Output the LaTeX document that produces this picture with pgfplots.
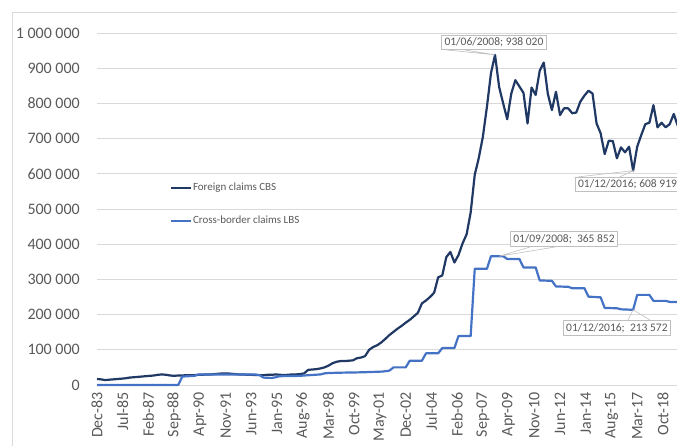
\documentclass[border=0pt]{standalone}
\usepackage{fontspec}
\setmainfont{Carlito}
\usepackage{pgfplots}
\pgfplotsset{compat=1.18}
\definecolor{cbs}{HTML}{203864}
\definecolor{lbs}{HTML}{4472C4}
\definecolor{txt}{HTML}{595959}
\definecolor{grd}{HTML}{D9D9D9}
\definecolor{bx}{HTML}{BFBFBF}
\begin{document}
\begin{tikzpicture}[x=1pt,y=1pt]
\useasboundingbox (0,0) rectangle (677,446);
\draw[grd, line width=0.8pt] (12,-10) -- (12,434) -- (700,434);
\begin{axis}[
  at={(97pt,61pt)}, anchor=south west,
  scale only axis, width=580pt, height=352pt,
  xmin=0, xmax=428.4, ymin=0, ymax=1000,
  axis line style={draw=none}, tick style={draw=none},
  ymajorgrids, grid style={grd, line width=0.9pt},
  ytick={0,100,...,1000},
  yticklabels={0,100 000,200 000,300 000,400 000,500 000,600 000,700 000,800 000,900 000,1 000 000},
  yticklabel style={font=\fontsize{16}{19}\selectfont, text=txt, anchor=east, inner sep=0pt, xshift=-17pt},
  xtick={0,19,...,418},
  xticklabels={Dec-83,Jul-85,Feb-87,Sep-88,Apr-90,Nov-91,Jun-93,Jan-95,Aug-96,Mar-98,Oct-99,May-01,Dec-02,Jul-04,Feb-06,Sep-07,Apr-09,Nov-10,Jun-12,Jan-14,Aug-15,Mar-17,Oct-18},
  xticklabel style={font=\fontsize{16}{19}\selectfont, text=txt, rotate=90, anchor=east, inner sep=0pt, xshift=-7pt},
  clip=false,
  legend style={at={(0.1259,0.5767)}, anchor=north west, draw=none, fill=none, inner sep=0pt, row sep=22pt, font=\fontsize{11}{13}\selectfont, text=txt, nodes={inner sep=1pt}},
  legend cell align=left,
  legend image code/.code={\draw[#1, line width=1.8pt] (0pt,0pt) -- (20pt,0pt);},
]
\addplot[cbs, line width=2.2pt, line join=round] table {
0 17
3 16
6 14
9 15
12 16
15 17
18 18
21 19
24 21
27 22
30 23
33 24
36 25
39 26
42 27
45 29
48 30
51 29
54 27
57 26
60 27
63 27
66 28
69 28
72 28
75 29
78 29
81 30
84 30
87 31
90 32
93 33
96 33
99 32
102 31
105 30
108 30
111 29
114 29
117 28
120 28
123 28
126 29
129 29
132 30
135 29
138 28
141 29
144 30
147 30
150 31
153 33
156 43
159 44
162 45
165 47
168 50
171 55
174 62
177 66
180 68
183 68
186 69
189 70
192 76
195 78
198 82
201 100
204 108
207 113
210 121
213 131
216 142
219 151
222 160
225 168
228 177
231 185
234 195
237 205
240 232
243 240
246 250
249 262
252 306
255 311
258 363
261 378
264 348
267 369
270 402
273 428
276 490
279 597
282 645
285 705
288 790
291 886
294 938.02
297 847
300 800
303 755
306 828
309 866
312 848
315 830
318 743
321 845
324 824
327 893
330 916
333 827
336 781
339 833
342 767
345 786
348 786
351 772
354 774
357 805
360 822
363 836
366 828
369 743
372 715
375 656
378 694
381 693
384 644
387 675
390 661
393 677
396 608.919
399 677
402 710
405 741
408 745
411 795
414 732
417 745
420 732
423 741
426 770
429 736
};
\addlegendentry{Foreign claims CBS}
\addplot[lbs, line width=2.2pt, line join=round] table {
0 0
60 0
63 24
72 26
75 30
117 30
120 28
123 21
129 20
132 22
135 25
150 26
153 27
165 30
168 33
171 34
180 35
195 36
210 38
213 39
216 41
219 50
228 50
231 69
240 69
243 90
252 90
255 105
264 105
267 139
276 139
279 330
288 330
291 365.852
300 365.852
303 358
312 358
315 334
324 334
327 297
336 296
339 280
348 279
351 275
360 275
363 251
372 249
375 219
384 218
387 215
396 213.572
399 256
408 256
411 239
420 239
423 236
429 236
};
\addlegendentry{Cross-border claims LBS}
% data labels
\draw[bx, line width=0.6pt] (axis cs:258.5,951.7) -- (axis cs:294,938.02) -- (axis cs:271.8,951.7);
\node[draw=bx, fill=white, text=txt, line width=0.6pt, inner xsep=3pt, inner ysep=2.5pt, font=\fontsize{11.5}{14}\selectfont] at (axis cs:293.2,974) {01/06/2008; 938 020};
\draw[bx, line width=0.6pt] (axis cs:355,591) -- (axis cs:396,608.919) -- (axis cs:386,591);
\node[draw=bx, fill=white, text=txt, line width=0.6pt, inner xsep=2.5pt, inner ysep=2.5pt, font=\fontsize{11.5}{14}\selectfont, anchor=west] at (axis cs:353.3,569.6) {01/12/2016; 608 919};
\draw[bx, line width=0.6pt] (axis cs:319.8,392) -- (axis cs:297,365.852) -- (axis cs:338.3,392);
\node[draw=bx, fill=white, text=txt, line width=0.6pt, inner xsep=3pt, inner ysep=2.5pt, font=\fontsize{11.5}{14}\selectfont] at (axis cs:344.9,414.8) {01/09/2008;\ \ 365 852};
\draw[bx, line width=0.6pt] (axis cs:392.2,184.7) -- (axis cs:396,213.572) -- (axis cs:408.4,184.7);
\node[draw=bx, fill=white, text=txt, line width=0.6pt, inner xsep=3pt, inner ysep=2.5pt, font=\fontsize{11.5}{14}\selectfont] at (axis cs:384,162) {01/12/2016;\ \ 213 572};
\end{axis}
\end{tikzpicture}
\end{document}
